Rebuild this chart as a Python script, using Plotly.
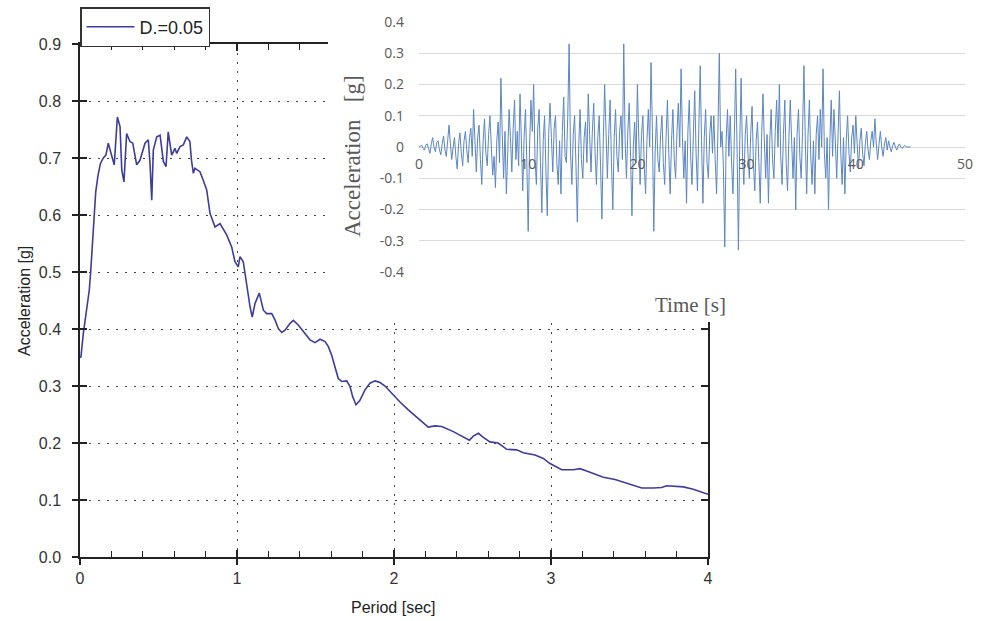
import plotly.graph_objects as go

W, H = 983, 621

# response spectrum (damping 0.05)
period = [0.0, 0.006, 0.021, 0.043, 0.059, 0.068, 0.08, 0.089, 0.1, 0.115, 0.13, 0.148,
          0.165, 0.18, 0.195, 0.208, 0.218, 0.238, 0.255, 0.266, 0.28, 0.297, 0.318,
          0.336, 0.361, 0.382, 0.414, 0.435, 0.446, 0.457, 0.467, 0.489, 0.51, 0.531,
          0.548, 0.562, 0.584, 0.605, 0.616, 0.637, 0.658, 0.68, 0.70, 0.71, 0.722,
          0.732, 0.764, 0.785, 0.807, 0.828, 0.86, 0.892, 0.934, 0.966, 0.987, 1.008,
          1.019, 1.04, 1.062, 1.083, 1.097, 1.115, 1.142, 1.168, 1.189, 1.221, 1.242,
          1.263, 1.285, 1.306, 1.338, 1.359, 1.39, 1.422, 1.465, 1.497, 1.529, 1.561,
          1.582, 1.603, 1.624, 1.645, 1.667, 1.699, 1.72, 1.737, 1.758, 1.783, 1.815,
          1.847, 1.879, 1.911, 1.943, 1.985, 2.038, 2.091, 2.145, 2.218, 2.261, 2.304,
          2.378, 2.48, 2.505, 2.537, 2.569, 2.611, 2.664, 2.718, 2.781, 2.824, 2.898,
          2.951, 2.994, 3.036, 3.068, 3.142, 3.185, 3.227, 3.27, 3.333, 3.408, 3.482,
          3.524, 3.578, 3.652, 3.705, 3.737, 3.843, 3.906, 3.96, 4.0]
sa = [0.35, 0.351, 0.392, 0.433, 0.468, 0.50, 0.56, 0.60, 0.64, 0.67, 0.69, 0.70,
      0.705, 0.726, 0.71, 0.70, 0.688, 0.772, 0.755, 0.679, 0.658, 0.743, 0.729,
      0.726, 0.688, 0.696, 0.726, 0.732, 0.69, 0.626, 0.714, 0.737, 0.740, 0.694,
      0.685, 0.746, 0.705, 0.717, 0.708, 0.72, 0.723, 0.737, 0.729, 0.696, 0.673,
      0.682, 0.676, 0.661, 0.644, 0.603, 0.579, 0.585, 0.565, 0.544, 0.518, 0.509,
      0.527, 0.518, 0.474, 0.439, 0.421, 0.445, 0.463, 0.433, 0.427, 0.427, 0.416,
      0.401, 0.394, 0.398, 0.41, 0.415, 0.407, 0.395, 0.381, 0.376, 0.382, 0.378,
      0.369, 0.354, 0.334, 0.313, 0.308, 0.309, 0.299, 0.281, 0.267, 0.275, 0.293,
      0.305, 0.309, 0.306, 0.30, 0.287, 0.272, 0.258, 0.245, 0.228, 0.23, 0.229,
      0.22, 0.205, 0.212, 0.217, 0.21, 0.202, 0.20, 0.189, 0.188, 0.183, 0.179,
      0.173, 0.164, 0.157, 0.153, 0.153, 0.155, 0.151, 0.147, 0.14, 0.136, 0.129,
      0.125, 0.121, 0.121, 0.122, 0.125, 0.123, 0.119, 0.114, 0.11]

# ground acceleration record, sampled every DT seconds (8 samples per row = 1 s)
DT = 0.125
accel = [
    0.0, 0.003, 0.005, -0.004, -0.01, 0.006, 0.01, -0.005,
    -0.02, 0.01, 0.03, 0.0, -0.015, 0.015, 0.02, -0.01,
    -0.025, 0.01, 0.035, -0.01, -0.03, 0.02, 0.07, 0.01,
    -0.04, 0.0, 0.03, -0.03, -0.07, 0.01, 0.045, -0.02,
    -0.06, 0.02, 0.05, -0.01, -0.05, 0.03, 0.06, -0.03,
    0.12, 0.02, -0.08, 0.03, 0.07, -0.04, -0.12, 0.02,
    0.09, -0.02, -0.06, 0.04, 0.10, 0.0, -0.09, -0.03,
    -0.13, 0.02, 0.08, -0.05, 0.22, 0.04, -0.10, 0.05,
    -0.15, -0.02, 0.12, 0.03, -0.08, 0.06, 0.15, -0.04,
    0.05, -0.06, 0.17, 0.02, -0.14, 0.03, 0.12, -0.05,
    -0.27, 0.0, 0.15, 0.05, 0.20, -0.04, -0.12, 0.06,
    0.12, -0.05, -0.21, 0.02, 0.10, -0.08, -0.22, 0.04,
    0.14, 0.03, -0.08, 0.06, 0.10, -0.05, -0.12, 0.02,
    -0.15, 0.05, 0.16, -0.03, -0.05, 0.10, 0.33, -0.02,
    -0.12, 0.04, 0.10, -0.06, -0.24, 0.0, 0.12, -0.04,
    -0.10, 0.03, 0.08, -0.05, 0.17, 0.04, -0.08, 0.05,
    0.14, -0.02, -0.12, 0.03, 0.10, -0.06, -0.23, 0.02,
    0.20, 0.05, -0.10, 0.04, 0.15, -0.05, -0.20, 0.03,
    0.12, -0.03, -0.08, 0.05, 0.10, -0.04, 0.33, 0.02,
    -0.10, 0.05, 0.14, -0.03, -0.22, 0.0, 0.08, -0.05,
    0.20, 0.03, -0.12, 0.04, 0.10, -0.06, -0.15, 0.02,
    0.12, 0.0, 0.27, 0.05, -0.27, -0.02, 0.10, -0.04,
    -0.08, 0.04, 0.10, -0.05, -0.12, 0.03, 0.15, -0.02,
    -0.15, 0.02, 0.12, -0.04, -0.10, 0.05, 0.14, 0.0,
    0.25, 0.03, -0.10, 0.02, -0.18, 0.05, 0.15, -0.03,
    -0.12, 0.04, 0.18, -0.02, -0.14, 0.06, 0.26, 0.02,
    -0.18, 0.03, 0.12, -0.05, -0.10, 0.04, 0.10, -0.02,
    0.10, -0.04, -0.15, 0.05, 0.30, 0.0, 0.05, -0.06,
    -0.32, 0.02, 0.12, -0.03, 0.10, -0.05, -0.15, 0.03,
    0.25, 0.0, -0.33, 0.02, 0.22, -0.03, -0.12, 0.04,
    0.10, -0.02, -0.10, 0.04, 0.13, -0.05, -0.14, 0.02,
    0.08, -0.05, -0.18, 0.03, 0.17, 0.02, -0.10, 0.04,
    -0.18, 0.02, 0.12, -0.04, -0.10, 0.05, 0.15, 0.0,
    0.20, -0.03, -0.12, 0.04, 0.15, -0.05, -0.14, 0.03,
    0.15, 0.02, -0.10, 0.03, -0.20, 0.04, 0.12, -0.03,
    -0.10, 0.05, 0.26, 0.02, -0.15, 0.04, 0.15, -0.03,
    -0.12, 0.02, -0.15, 0.04, 0.10, -0.04, 0.12, 0.0,
    0.25, -0.02, -0.10, 0.03, -0.20, 0.02, 0.15, -0.03,
    0.12, 0.02, -0.10, 0.04, 0.18, -0.02, -0.12, 0.03,
    -0.15, 0.02, 0.10, -0.02, -0.08, 0.03, 0.07, -0.02,
    0.10, 0.01, -0.07, 0.02, 0.06, -0.02, -0.06, 0.01,
    0.05, -0.01, -0.04, 0.02, 0.05, 0.0, 0.09, 0.01,
    -0.04, 0.01, 0.05, 0.0, -0.03, 0.01, 0.03, -0.01,
    0.02, 0.0, -0.015, 0.005, 0.015, 0.0, -0.01, 0.003,
    0.01, 0.0, -0.005, 0.002, 0.005, 0.0, 0.0, 0.0,
    0.0,
]

inset_yticks = [-0.4, -0.3, -0.2, -0.1, 0, 0.1, 0.2, 0.3, 0.4]
inset_ytext = ["-0.4", "-0.3", "-0.2", "-0.1", "0", "0.1", "0.2", "0.3", "0.4"]

MAIN_COLOR = "#3d3d9c"
INSET_COLOR = "#5b86c4"
AXIS = "#222222"
GREY = "#595959"


def px_x(p):
    return p / W


def px_y(p):
    return 1 - p / H


fig = go.Figure()

fig.add_trace(go.Scatter(
    x=period, y=sa, mode="lines", name="D.=0.05",
    line=dict(color=MAIN_COLOR, width=1.6),
    xaxis="x", yaxis="y",
))

# white panel the inset sits on (hides the main frame behind it)
fig.add_trace(go.Scatter(
    x=[0, 1, 1, 0, 0], y=[0, 0, 1, 1, 0], mode="lines", fill="toself",
    fillcolor="white", line=dict(width=0, color="white"),
    hoverinfo="skip", showlegend=False, xaxis="x2", yaxis="y2",
))

fig.add_trace(go.Scatter(
    x0=0, dx=DT, y=accel, mode="lines",
    line=dict(color=INSET_COLOR, width=1),
    showlegend=False, xaxis="x3", yaxis="y3",
))

# outer halves of the crossing ticks on left/bottom
fig.add_trace(go.Scatter(
    x=[None], y=[None], mode="lines", showlegend=False,
    hoverinfo="skip", xaxis="x4", yaxis="y4",
))

main_x_dom = [px_x(80), px_x(708)]
main_y_dom = [px_y(557), px_y(44)]
tickfont = dict(family="Arial, Liberation Sans", size=16, color="#333333")
dots = "2px,7px"

fig.update_layout(
    width=W, height=H, autosize=False,
    margin=dict(l=0, r=0, t=0, b=0, autoexpand=False),
    paper_bgcolor="white", plot_bgcolor="white",
    font=dict(family="Arial, Liberation Sans", color=AXIS),
    xaxis=dict(
        domain=main_x_dom, anchor="y", range=[0, 4], tick0=0, dtick=1,
        ticks="inside", ticklen=7, tickwidth=1.5, tickcolor=AXIS,
        minor=dict(dtick=0.2, ticks="inside", ticklen=6, tickwidth=1.2,
                   tickcolor=AXIS, showgrid=False),
        showline=True, linecolor=AXIS, linewidth=1.5, mirror="ticks",
        showgrid=True, gridcolor="#444444", gridwidth=1.4, griddash=dots,
        zeroline=False, tickfont=tickfont, ticklabelstandoff=6,
    ),
    yaxis=dict(
        domain=main_y_dom, anchor="x", range=[0, 0.9], tick0=0, dtick=0.1,
        tickformat=".1f",
        ticks="inside", ticklen=7, tickwidth=1.5, tickcolor=AXIS,
        showline=True, linecolor=AXIS, linewidth=1.5, mirror="ticks",
        showgrid=True, gridcolor="#444444", gridwidth=1.4, griddash=dots,
        zeroline=False, tickfont=tickfont, ticklabelstandoff=14,
    ),
    xaxis2=dict(domain=[px_x(328), 1], anchor="y2", range=[0, 1],
                visible=False, fixedrange=True),
    yaxis2=dict(domain=[px_y(322), 1], anchor="x2", range=[0, 1],
                visible=False, fixedrange=True),
    xaxis3=dict(
        domain=[px_x(419), px_x(965)], anchor="free", position=px_y(148),
        range=[0, 50], tick0=0, dtick=10, showgrid=False, showline=False,
        zeroline=False, ticks="",
        tickfont=dict(family="Open Sans, Liberation Sans", size=14, color=GREY),
        ticklabelstandoff=6,
    ),
    yaxis3=dict(
        domain=[px_y(272), px_y(22)], anchor="x3", range=[-0.4, 0.4],
        tickvals=inset_yticks, ticktext=inset_ytext,
        showgrid=True, gridcolor="#d9d9d9", gridwidth=1, zeroline=False,
        showline=False, ticks="",
        tickfont=dict(family="Open Sans, Liberation Sans", size=14, color=GREY),
        ticklabelstandoff=14,
    ),
    xaxis4=dict(overlaying="x", anchor="y4", range=[0, 4], tick0=0, dtick=1,
                ticks="outside", ticklen=7, tickwidth=1.5, tickcolor=AXIS,
                showticklabels=False, showgrid=False, showline=False,
                zeroline=False),
    yaxis4=dict(overlaying="y", anchor="x4", range=[0, 0.9], tick0=0, dtick=0.1,
                ticks="outside", ticklen=7, tickwidth=1.5, tickcolor=AXIS,
                showticklabels=False, showgrid=False, showline=False,
                zeroline=False),
    showlegend=True,
    legend=dict(
        x=px_x(80), y=px_y(7), xanchor="left", yanchor="top",
        bgcolor="white", bordercolor="#333333", borderwidth=1.5,
        font=dict(family="Arial, Liberation Sans", size=18, color=AXIS),
        itemwidth=48, tracegroupgap=0,
    ),
)

# axis titles
title_pos = dict(xref="paper", yref="paper", xanchor="center", yanchor="middle",
                 showarrow=False)
fig.add_annotation(text="Acceleration [g]", x=px_x(25), y=px_y(301),
                   textangle=-90, **title_pos,
                   font=dict(family="Arial, Liberation Sans", size=16, color=AXIS))
fig.add_annotation(text="Period [sec]", x=px_x(393), y=px_y(607), **title_pos,
                   font=dict(family="Arial, Liberation Sans", size=16, color=AXIS))
fig.add_annotation(text="Acceleration&nbsp;&nbsp;&nbsp;[g]", x=px_x(352), y=px_y(156),
                   textangle=-90, **title_pos,
                   font=dict(family="Liberation Serif, Times New Roman", size=23, color=GREY))
fig.add_annotation(text="Time [s]", x=px_x(690), y=px_y(305), **title_pos,
                   font=dict(family="Liberation Serif, Times New Roman", size=21, color=GREY))

# drop the browser's default page margin so the figure sits at (0, 0)
fig.write_html("out.html", config={"displayModeBar": False},
               post_script="document.body.style.margin = '0';")
